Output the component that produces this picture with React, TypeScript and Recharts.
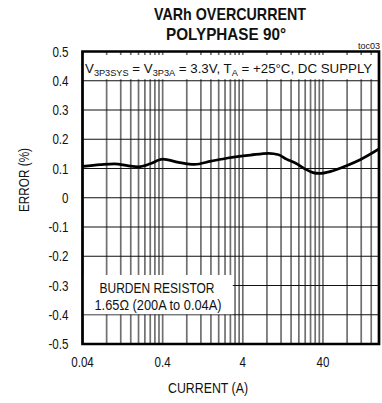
import React from 'react';
import { ComposedChart, Line, XAxis, YAxis, CartesianGrid, ReferenceArea } from 'recharts';

// Measured curve: current (A) vs. error (%)
const currentA = [0.04, 0.067, 0.1, 0.15, 0.2, 0.28, 0.4, 0.63, 1.0, 1.6, 2.6, 5, 8.4, 11.2, 14, 18.3, 24, 30, 36, 50, 76, 118, 200];
const errorPct = [0.107, 0.113, 0.116, 0.109, 0.106, 0.116, 0.132, 0.121, 0.114, 0.125, 0.136, 0.146, 0.152, 0.147, 0.132, 0.118, 0.098, 0.086, 0.083, 0.09, 0.108, 0.131, 0.167];

// Axis ticks
const xTicks = [0.04, 0.4, 4, 40];
const xTickLabels = ['0.04', '0.4', '4', '40'];
const yTicks = [-0.5, -0.4, -0.3, -0.2, -0.1, 0, 0.1, 0.2, 0.3, 0.4, 0.5];
const yTickLabels = ['-0.5', '-0.4', '-0.3', '-0.2', '-0.1', '0', '0.1', '0.2', '0.3', '0.4', '0.5'];

// Grid values
const gridX = [0.04, 0.08, 0.12, 0.16, 0.2, 0.24, 0.28, 0.32, 0.36, 0.4, 0.8, 1.2, 1.6, 2, 2.4, 2.8, 3.2, 3.6, 4, 8, 12, 16, 20, 24, 28, 32, 36, 40, 80, 120, 160, 200];
const gridY = [-0.5, -0.4, -0.3, -0.2, -0.1, 0, 0.1, 0.2, 0.3, 0.4, 0.5];

const data = currentA.map((x, i) => ({ x, y: errorPct[i] }));

const FONT = "'Liberation Sans', Arial, sans-serif";

const XTick = (props: any) => {
  const { x, y, payload } = props;
  const i = xTicks.indexOf(payload.value);
  return (
    <text x={0} y={0} transform={`translate(${x},${y + 23}) scale(0.8,1)`} textAnchor="middle" fontSize={14.5} fontFamily={FONT} fill="#111">
      {i >= 0 ? xTickLabels[i] : payload.value}
    </text>
  );
};

const YTick = (props: any) => {
  const { x, y, payload } = props;
  const i = yTicks.findIndex((v) => Math.abs(v - payload.value) < 1e-9);
  return (
    <text x={0} y={0} transform={`translate(${x},${y + 5}) scale(0.8,1)`} textAnchor="end" fontSize={14.5} fontFamily={FONT} fill="#111">
      {i >= 0 ? yTickLabels[i] : payload.value}
    </text>
  );
};

export default function App() {
  return (
    <div style={{ position: 'absolute', left: 0, top: 0, width: 382, height: 403, background: '#fff' }}>
      <ComposedChart width={382} height={403} data={data} margin={{ top: 51.5, right: 3, bottom: 19, left: 0 }}>
        <CartesianGrid horizontal={false} verticalValues={gridX} stroke="#707070" strokeWidth={1.7} />
        <CartesianGrid vertical={false} horizontalValues={gridY} stroke="#111" strokeWidth={1.1} />
        <XAxis
          dataKey="x"
          type="number"
          scale="log"
          domain={[0.04, 200]}
          allowDataOverflow
          ticks={xTicks}
          interval={0}
          axisLine={false}
          tickLine={false}
          tickSize={0}
          tickMargin={0}
          height={40}
          tick={(p: any) => <XTick {...p} />}
        />
        <YAxis
          type="number"
          domain={[-0.5, 0.5]}
          ticks={yTicks}
          interval={0}
          axisLine={false}
          tickLine={false}
          tickSize={0}
          tickMargin={14}
          width={82.5}
          tick={(p: any) => <YTick {...p} />}
        />
        <ReferenceArea x1={0.04} x2={200} y1={0.405} y2={0.488} fill="#fff" fillOpacity={1} stroke="none" />
        <ReferenceArea x1={0.04} x2={3} y1={-0.398} y2={-0.264} fill="#fff" fillOpacity={1} stroke="none" />
        <Line dataKey="y" type="monotone" stroke="#000" strokeWidth={2.7} dot={false} isAnimationActive={false} />
        <ReferenceArea x1={0.04} x2={200} y1={-0.5} y2={0.5} fill="none" stroke="#000" strokeWidth={2.7} />
      </ComposedChart>
      <svg width={382} height={403} style={{ position: 'absolute', left: 0, top: 0, pointerEvents: 'none' }} fontFamily={FONT}>
        <text x={230} y={20} textAnchor="middle" fontSize={17} fontWeight="bold" textLength={152} lengthAdjust="spacingAndGlyphs" fill="#111">VARh OVERCURRENT</text>
        <text x={226} y={39.5} textAnchor="middle" fontSize={17} fontWeight="bold" textLength={120} lengthAdjust="spacingAndGlyphs" fill="#111">POLYPHASE 90°</text>
        <text x={380} y={49} textAnchor="end" fontSize={9} fill="#111">toc03</text>
        <text x={85} y={73.3} fontSize={13.3} fill="#111">
          V<tspan fontSize={9.2} dy={2.5}>3P3SYS</tspan><tspan dy={-2.5}> = V</tspan><tspan fontSize={9.2} dy={2.5}>3P3A</tspan><tspan dy={-2.5}> = 3.3V, T</tspan><tspan fontSize={9.2} dy={2.5}>A</tspan><tspan dy={-2.5}> = +25°C, DC SUPPLY</tspan>
        </text>
        <text x={157} y={293} textAnchor="middle" fontSize={14.5} textLength={115} lengthAdjust="spacingAndGlyphs" fill="#111">BURDEN RESISTOR</text>
        <text x={158} y={309.5} textAnchor="middle" fontSize={14.5} textLength={127} lengthAdjust="spacingAndGlyphs" fill="#111">1.65Ω (200A to 0.04A)</text>
        <text x={208} y={393} textAnchor="middle" fontSize={14.5} textLength={80} lengthAdjust="spacingAndGlyphs" fill="#111">CURRENT (A)</text>
        <text x={0} y={0} transform="translate(29,180) rotate(-90)" textAnchor="middle" fontSize={14.5} textLength={64} lengthAdjust="spacingAndGlyphs" fill="#111">ERROR (%)</text>
      </svg>
    </div>
  );
}
